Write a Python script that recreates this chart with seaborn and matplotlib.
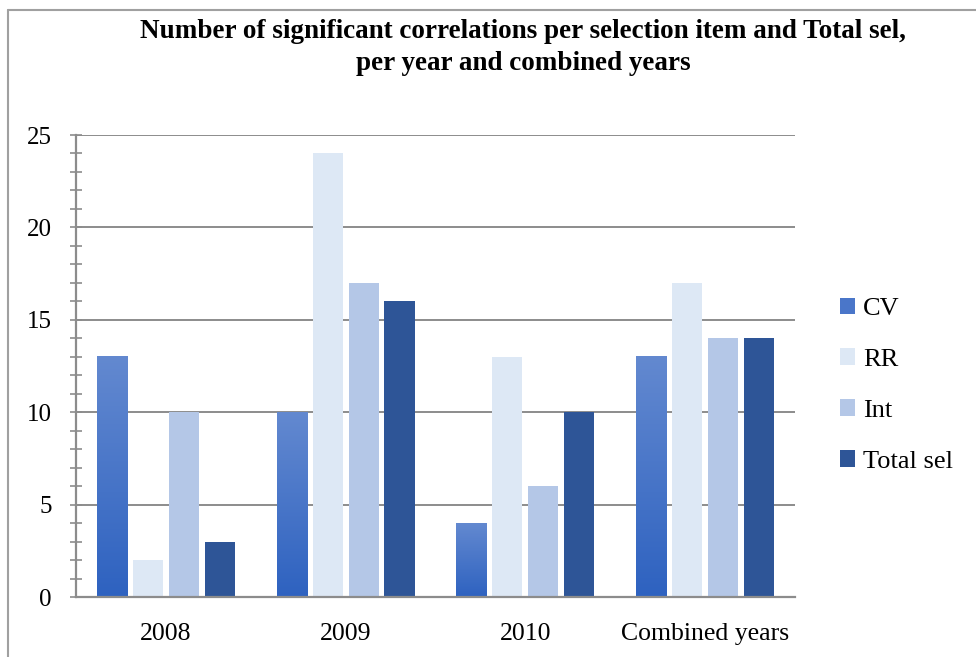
import numpy as np
import pandas as pd
import matplotlib
matplotlib.use("Agg")
import matplotlib.pyplot as plt
from matplotlib.lines import Line2D
from matplotlib.patches import Patch
from matplotlib.colors import LinearSegmentedColormap
import seaborn as sns

categories = ["2008", "2009", "2010", "Combined years"]
series_names = ["CV", "RR", "Int", "Total sel"]
cv = [13, 10, 4, 13]
rr = [2, 24, 13, 17]
int_vals = [10, 17, 6, 14]
total_sel = [3, 16, 10, 14]
y_ticks = [0, 5, 10, 15, 20, 25]

title = ("Number of significant correlations per selection item and Total sel,\n"
         "per year and combined years")

colors = {"CV": "#4a76c9", "RR": "#dde8f5", "Int": "#b4c7e7", "Total sel": "#2e5597"}
cv_top, cv_bottom = "#6389d0", "#2e62c0"

df = pd.DataFrame({
    "category": categories * len(series_names),
    "series": sum([[s] * len(categories) for s in series_names], []),
    "value": cv + rr + int_vals + total_sel,
})

sns.set_theme(style="white")
plt.rcParams["font.family"] = ["Liberation Serif", "DejaVu Serif"]
plt.rcParams["text.color"] = "black"

fig = plt.figure(figsize=(9.76, 6.57), dpi=100)
ax = fig.add_axes([76 / 976, 1 - 597 / 657, (795 - 76) / 976, (597 - 135) / 657])

sns.barplot(data=df, x="category", y="value", hue="series", order=categories,
            hue_order=series_names, palette=colors, width=0.8, gap=0.16,
            edgecolor="none", linewidth=0, saturation=1, ax=ax, legend=False,
            zorder=3)

# vertical gradient fill for the CV bars
cmap = LinearSegmentedColormap.from_list("cvgrad", [cv_bottom, cv_top])
grad = np.linspace(0, 1, 256).reshape(-1, 1)
for bar in ax.containers[0]:
    x0, y0 = bar.get_x(), bar.get_y()
    w, h = bar.get_width(), bar.get_height()
    bar.set_facecolor("none")
    ax.imshow(grad, cmap=cmap, origin="lower", aspect="auto",
              extent=[x0, x0 + w, y0, y0 + h], zorder=3, interpolation="bicubic")

ax.set_xlim(-0.5, 3.5)
ax.set_ylim(0, 25)
ax.set_yticks(y_ticks)
ax.set_yticks(np.arange(0, 26, 1), minor=True)
ax.set_xlabel("")
ax.set_ylabel("")
ax.set_xticks(range(len(categories)))
ax.set_xticklabels(categories)

grid_c = "#8c8c8c"
for y in y_ticks[1:]:
    ax.axhline(y, color=grid_c, lw=1.4, zorder=1)

for side in ["top", "right"]:
    ax.spines[side].set_visible(False)
for side in ["left", "bottom"]:
    ax.spines[side].set_visible(True)
    ax.spines[side].set_color(grid_c)
    ax.spines[side].set_linewidth(1.6)
    ax.spines[side].set_zorder(4)

ax.tick_params(axis="y", which="both", direction="inout", left=True,
               length=8, width=1.2, colors=grid_c, labelcolor="black",
               labelsize=18, pad=13.5)
ax.tick_params(axis="x", which="both", bottom=False, labelsize=18.5, pad=13,
               labelcolor="black")

fig.text(523 / 976, 1 - 19 / 657, title, ha="center", va="top", fontsize=19.5,
         fontweight="bold", linespacing=1.35, color="black")

handles = [Patch(facecolor=colors[s], edgecolor="none") for s in series_names]
fig.legend(handles, series_names, loc="upper left",
           bbox_to_anchor=(829 / 976, 1 - 287 / 657), frameon=False,
           fontsize=19, handlelength=0.6, handleheight=0.6, handletextpad=0.3,
           labelspacing=1.07, borderaxespad=0, labelcolor="black")

# outer chart frame
frame_c = "#a0a0a0"
fig.add_artist(Line2D([8 / 976, 1.0], [1 - 10 / 657, 1 - 10 / 657],
                      transform=fig.transFigure, color=frame_c, lw=1.5))
fig.add_artist(Line2D([8 / 976, 8 / 976], [1 - 10 / 657, 0.0],
                      transform=fig.transFigure, color=frame_c, lw=1.5))

fig.savefig("out.png", dpi=100, facecolor="white")
